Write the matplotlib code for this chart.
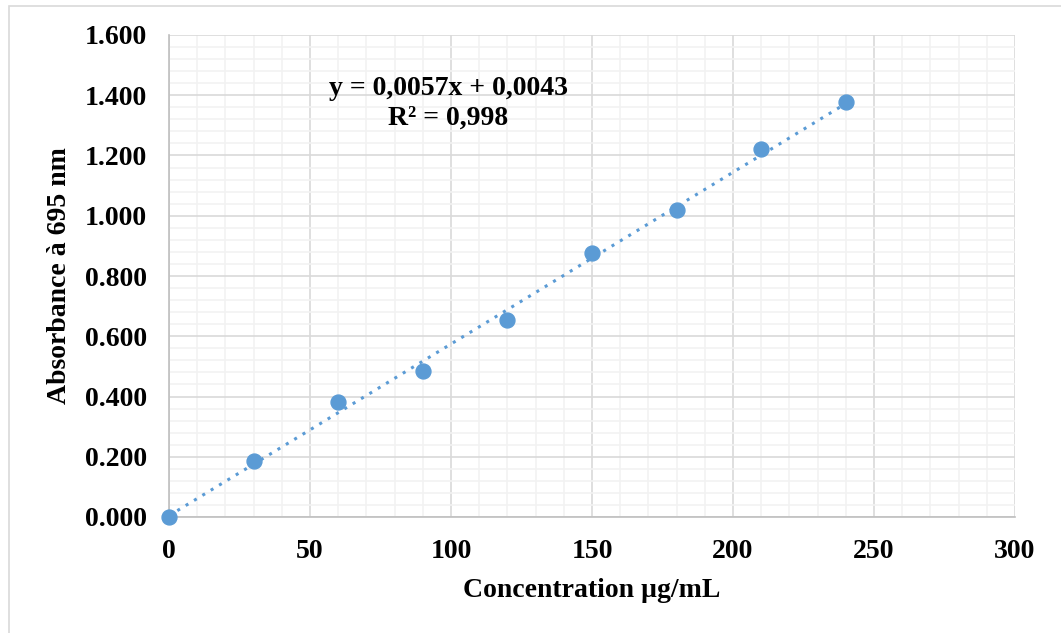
import numpy as np
import matplotlib
matplotlib.use("Agg")
import matplotlib.pyplot as plt
from matplotlib.patches import Rectangle
from matplotlib.ticker import MultipleLocator, FuncFormatter

# données
concentration = [0, 30, 60, 90, 120, 150, 180, 210, 240]
absorbance = [0.000, 0.186, 0.382, 0.485, 0.654, 0.876, 1.019, 1.222, 1.378]
slope = 0.0057
intercept = 0.0043
r2 = 0.998

blue = "#5b9bd5"
plt.rcParams["font.family"] = ["Liberation Serif", "DejaVu Serif"]
plt.rcParams["font.weight"] = "bold"
fs = 20

fig = plt.figure(figsize=(10.61, 6.33), dpi=100)
W, H = 1061, 633
fig.patches.append(Rectangle((8.5 / W, -0.1), 1.2, (633 - 5.5) / H + 0.1,
                             transform=fig.transFigure, fill=False,
                             edgecolor="#d9d9d9", linewidth=1.2))

ax = fig.add_axes([169 / W, 1 - 517 / H, (1015 - 169) / W, (517 - 35) / H])
ax.set_xlim(0, 300)
ax.set_ylim(0, 1.6)

ax.xaxis.set_major_locator(MultipleLocator(50))
ax.xaxis.set_minor_locator(MultipleLocator(10))
ax.yaxis.set_major_locator(MultipleLocator(0.2))
ax.yaxis.set_minor_locator(MultipleLocator(0.04))
ax.grid(which="minor", color="#f2f2f2", linewidth=1.2)
ax.grid(which="major", color="#d9d9d9", linewidth=1.2)
ax.set_axisbelow(True)
ax.yaxis.set_major_formatter(FuncFormatter(lambda v, p: f"{v:.3f}"))

for s in ["top", "right"]:
    ax.spines[s].set_visible(False)
for s in ["bottom", "left"]:
    ax.spines[s].set_color("#bfbfbf")
    ax.spines[s].set_linewidth(1.2)
ax.tick_params(which="both", length=0, labelsize=fs)
ax.tick_params(axis="y", pad=16)
ax.tick_params(axis="x", pad=16)
for lab in ax.get_xticklabels() + ax.get_yticklabels():
    lab.set_fontweight("bold")

xfit = np.array([0, 240])
ax.plot(xfit, slope * xfit + intercept, linestyle=(0, (1, 2.2)),
        color=blue, linewidth=2.2, zorder=3)
ax.scatter(concentration, absorbance, s=115, color=blue, zorder=4,
           clip_on=False)

ax.text(0.330, 0.890, f"y = {slope:.4f}x + {intercept:.4f}".replace(".", ","),
        transform=ax.transAxes, ha="center", va="center",
        fontsize=fs, fontweight="bold")
ax.text(0.330, 0.828, f"R² = {r2:.3f}".replace(".", ","),
        transform=ax.transAxes, ha="center", va="center",
        fontsize=fs, fontweight="bold")

ax.set_xlabel("Concentration µg/mL", fontsize=fs, fontweight="bold", va="center")
ax.set_ylabel("Absorbance à 695 nm", fontsize=fs, fontweight="bold", va="center")
ax.xaxis.set_label_coords(0.5, -0.1535)
ax.yaxis.set_label_coords(-0.129, 0.5)

fig.savefig("out.png", dpi=100)
